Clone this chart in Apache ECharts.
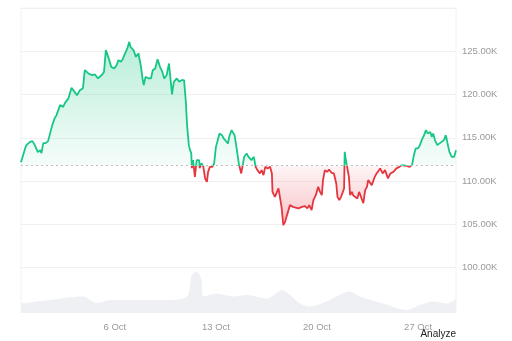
<!DOCTYPE html>
<html>
<head>
<meta charset="utf-8">
<script src="https://cdn.jsdelivr.net/npm/echarts@6/dist/echarts.min.js"></script>
<style>
html,body{margin:0;padding:0;background:#fff;}
#c{width:512px;height:341px;}
</style>
</head>
<body>
<div id="c"></div>
<script>
// Start of the chart window (local time) — hours below are offsets from it
var startDate = [2025, 8, 29, 12];
var endHour = 723;

// Price: hours since start, price in USD
var priceHours = [0,2,7,9,15,19,23,28,32,34,37,41,45,49,52,56,59,65,70,73,79,84,89,93,98,103,106,112,118,123,128,135,138,141,145,150,155,159,162,166,169,173,177,180,182,187,191,195,198,199,202,204,207,212,216,219,223,227,231,235,238,242,246,249,251,254,259,263,267,271,274,276,279,281,283,284,286,289,292,296,297,300,303,306,309,311,314,318,321,324,327,330,334,337,340,344,346,350,355,358,362,366,368,371,375,378,381,383,387,390,393,397,400,403,406,410,414,417,418,422,425,428,430,433,436,439,442,444,447,452,455,461,467,472,476,479,483,486,490,494,497,500,502,505,509,512,516,520,524,526,529,532,535,537,538,540,542,545,547,550,552,555,559,562,566,569,572,575,577,580,583,588,591,594,597,601,605,608,610,614,619,624,629,633,635,641,646,650,653,656,660,663,666,670,673,676,680,683,685,688,692,695,699,703,706,709,712,716,720,723];
var priceValues = [112190,112310,113810,114160,114540,114620,114160,113350,113580,113230,114390,114390,114620,115690,116470,117280,117620,118780,118580,119010,119590,120780,120310,119930,120510,120740,122820,122440,122240,122320,121860,122320,122620,125130,124360,123200,123020,123400,123980,123780,124090,124750,125400,126090,125510,125130,124360,124750,124930,123400,121860,121090,122050,121860,121860,122820,123020,124090,123200,122620,121860,122240,123590,121470,120010,121470,121860,121470,121670,121670,119160,116470,114160,113580,113230,111500,112430,110500,112430,112430,111500,112080,111650,110310,109920,111070,111650,111650,112040,113960,114740,115510,115310,114930,115120,114350,115120,115890,115310,113960,112040,110890,111650,112810,113200,112810,113000,112430,112810,111650,111270,110890,111270,110690,111650,111470,111650,110890,108760,108190,108380,109160,108960,107030,104920,105300,106070,105880,107230,107030,107030,106850,107030,107110,106850,107230,106650,107810,108380,109340,108760,108380,110120,111270,111070,111350,110960,110890,109730,108190,107810,108190,108760,109160,113380,112430,111650,110500,108380,108760,108380,108580,108000,108760,108000,107460,108960,109340,110120,109920,109540,110500,110890,110690,111470,110890,111270,110690,110310,110890,111070,111470,111650,111850,111650,111770,111650,111850,113000,113780,113780,114160,114740,115310,115890,115510,115690,115120,115510,114740,114160,113960,114540,114740,115310,115120,113380,112810,112810,113580];
var baseline = 111800;

// Volume: hours since start, volume in USD billions
var volumeHours = [0,48,103,126,148,186,243,276,284,292,300,303,325,352,375,408,435,447,464,480,508,547,563,602,641,663,685,708,723];
var volumeValues = [19,26,33,20,26,26,26,33,76,83,66,33,39,33,36,29,46,36,19,13,23,43,33,19,6,16,23,19,28];

// Axis ticks
var dateTicks = ['2025-10-06','2025-10-13','2025-10-20','2025-10-27'];
var priceTicks = [100000,105000,110000,115000,120000,125000];
var monthNames = ['Jan','Feb','Mar','Apr','May','Jun','Jul','Aug','Sep','Oct','Nov','Dec'];

var HOUR = 3600000;
var t0 = new Date(startDate[0], startDate[1], startDate[2], startDate[3]).getTime();
var priceData = priceHours.map(function(h,i){return [h, priceValues[i]];});
var volumeData = volumeHours.map(function(h,i){return [h, volumeValues[i]];});
var tickHours = dateTicks.map(function(s){var p=s.split('-');return (new Date(+p[0], +p[1]-1, +p[2]).getTime()-t0)/HOUR;});

var green = '#16c784', red = '#e5353f';

function renderArea(params, api){
  if (params.dataIndex !== 0) return null;
  var pts = [];
  for (var i = 0; i < priceData.length; i++) pts.push(api.coord(priceData[i]));
  var b0 = api.coord([priceHours[0], baseline]);
  var b1 = api.coord([priceHours[priceHours.length-1], baseline]);
  pts.push([b1[0], b1[1]]);
  pts.push([b0[0], b0[1]]);
  var top = api.coord([0, Math.max.apply(null, priceValues)])[1];
  var bot = api.coord([0, Math.min.apply(null, priceValues)])[1];
  var by = b0[1];
  var grad = new echarts.graphic.LinearGradient(0, top, 0, bot, [
    {offset:0, color:'rgba(22,199,132,0.30)'},
    {offset:(by-top)/(bot-top)-0.001, color:'rgba(22,199,132,0.04)'},
    {offset:(by-top)/(bot-top), color:'rgba(234,57,67,0.05)'},
    {offset:1, color:'rgba(234,57,67,0.30)'}
  ], true);
  return {type:'polygon', shape:{points:pts}, style:{fill:grad}, silent:true};
}

var font = "'Liberation Sans', Arial, sans-serif";
var chart = echarts.init(document.getElementById('c'), null, {renderer:'canvas'});
chart.setOption({
  animation:false,
  backgroundColor:'#fff',
  grid:[
    {left:21, right:56, top:8, bottom:30, show:true, borderColor:'#f2f2f2', borderWidth:1},
    {left:21, right:56, top:258, bottom:28}
  ],
  xAxis:[
    {type:'value', gridIndex:0, min:0, max:endHour,
     axisLine:{show:false}, axisTick:{show:false}, splitLine:{show:false},
     axisLabel:{show:false}},
    {type:'value', gridIndex:1, min:0, max:endHour,
     axisLine:{show:false}, axisTick:{show:false}, splitLine:{show:false},
     axisLabel:{show:true, customValues:tickHours, color:'#9a9a9a', fontSize:9.5, fontFamily:font, margin:9,
       formatter:function(v){var d=new Date(t0+v*HOUR);return d.getDate()+' '+monthNames[d.getMonth()];}}}
  ],
  yAxis:[
    {type:'value', gridIndex:0, position:'right', min:95000, max:130000, interval:5000,
     axisLine:{show:false}, axisTick:{show:false},
     splitLine:{show:true, lineStyle:{color:'#f0f0f0', width:1}},
     axisLabel:{color:'#9a9a9a', fontSize:9.5, fontFamily:font, margin:6,
       formatter:function(v){return priceTicks.indexOf(v)>=0 ? (v/1000).toFixed(2)+'K' : '';}}},
    {type:'value', gridIndex:1, min:0, max:110, show:false}
  ],
  series:[
    {type:'line', xAxisIndex:1, yAxisIndex:1, data:volumeData, showSymbol:false, symbol:'none',
     smooth:0.3, lineStyle:{width:0}, areaStyle:{color:'#eef0f3', opacity:1}, z:1},
    {type:'custom', xAxisIndex:0, yAxisIndex:0, data:priceData, renderItem:renderArea, z:2, silent:true},
    {id:'price', type:'line', xAxisIndex:0, yAxisIndex:0, data:priceData, showSymbol:false, symbol:'none',
     lineStyle:{width:1.8, color:green}, z:3,
     markLine:{silent:true, symbol:['none','none'], label:{show:false},
       lineStyle:{type:[2,3], color:'#bdbdbd', width:1}, data:[{yAxis:baseline}]}}
  ],
  graphic:[{type:'text', right:56, top:329, style:{text:'Analyze', fill:'#222', font:'10px '+font}}]
});

// Two-tone line: hard colour switch at the baseline's pixel position
var by = chart.convertToPixel({yAxisIndex:0}, baseline);
var yTop = chart.convertToPixel({yAxisIndex:0}, 130000);
var yBot = chart.convertToPixel({yAxisIndex:0}, 95000);
var s = (by - yTop) / (yBot - yTop);
chart.setOption({series:[{id:'price', lineStyle:{color:new echarts.graphic.LinearGradient(0, yTop, 0, yBot, [
  {offset:0, color:green},{offset:s, color:green},{offset:s, color:red},{offset:1, color:red}], true)}}]});
</script>
</body>
</html>
